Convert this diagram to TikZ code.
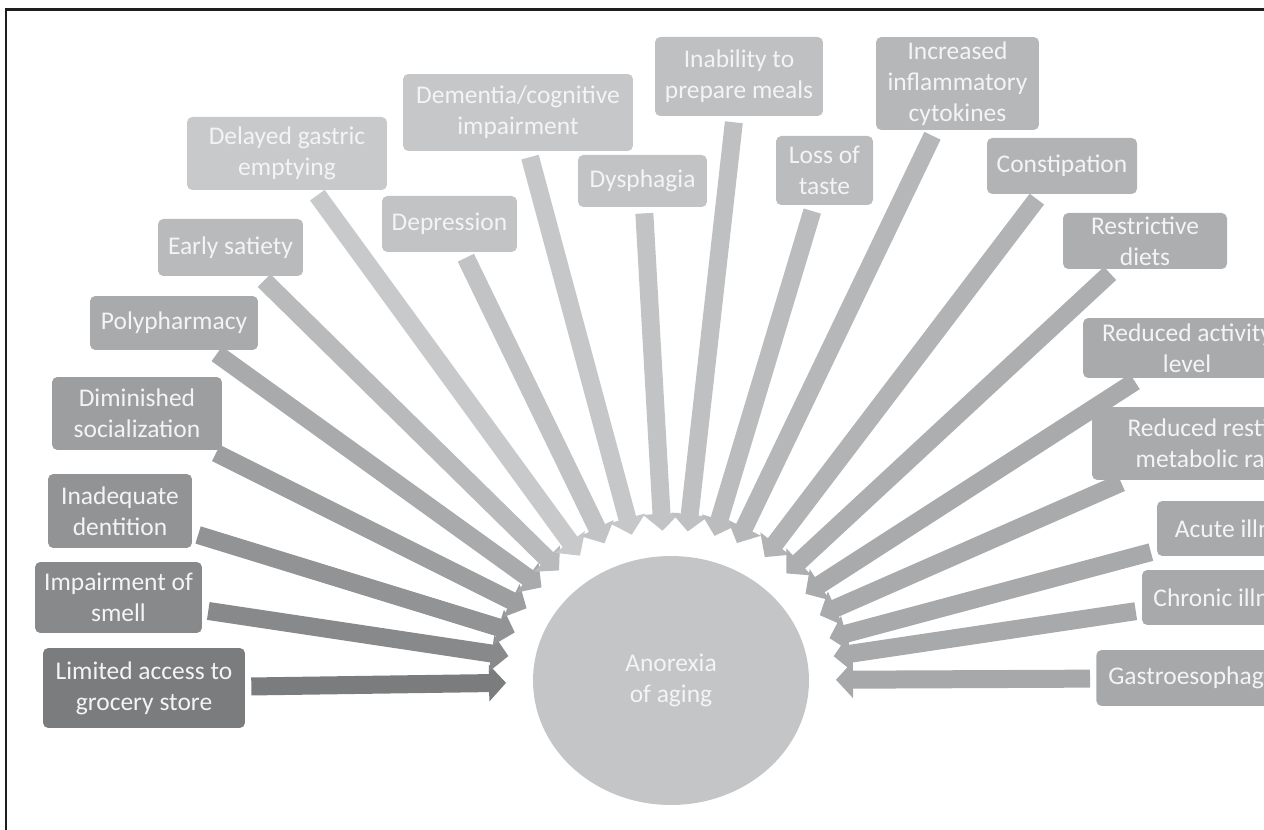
\documentclass[tikz,border=0pt]{standalone}
\usepackage{fontspec}
\setmainfont{Carlito}
\usetikzlibrary{arrows.meta,calc,shapes.geometric}
\definecolor{frameInk}{HTML}{1E1E1E}
\definecolor{labelInk}{HTML}{F4F4F4}
\definecolor{coreTone}{HTML}{C4C5C7}
\definecolor{tone-limited}{HTML}{7B7C7E}
\definecolor{tone-smell}{HTML}{88898B}
\definecolor{tone-dent}{HTML}{929395}
\definecolor{tone-dimin}{HTML}{9D9EA0}
\definecolor{tone-poly}{HTML}{A9AAAC}
\definecolor{tone-satiety}{HTML}{B9BABC}
\definecolor{tone-gastric}{HTML}{C8C9CB}
\definecolor{tone-depression}{HTML}{C2C3C5}
\definecolor{tone-dementia}{HTML}{C6C7C9}
\definecolor{tone-dysphagia}{HTML}{C2C3C5}
\definecolor{tone-inability}{HTML}{BFC0C2}
\definecolor{tone-taste}{HTML}{BBBCBE}
\definecolor{tone-cytokines}{HTML}{B6B7B9}
\definecolor{tone-constipation}{HTML}{B2B3B5}
\definecolor{tone-restrictive}{HTML}{ADAEB0}
\definecolor{tone-activity}{HTML}{A9AAAC}
\definecolor{tone-resting}{HTML}{A9AAAC}
\definecolor{tone-acute}{HTML}{A8A9AB}
\definecolor{tone-chronic}{HTML}{A8A9AB}
\definecolor{tone-gastro}{HTML}{A7A8AA}
\tikzset{
  factor/.style={rounded corners=3pt, align=center, inner sep=0pt,
                 text=labelInk, font=\fontsize{14.5}{17.7}\selectfont},
  core/.style={ellipse, fill=coreTone, inner sep=0pt, align=center,
               text=labelInk, font=\fontsize{14.5}{17.7}\selectfont},
  fatarrow/.style={line width=0.36cm, -{Triangle[length=0.34cm,width=0.72cm]},
                   shorten <=0.12cm},
  frame/.style={line width=0.06cm, frameInk},
}

\begin{document}
\begin{tikzpicture}[x=0.02cm, y=-0.02cm]
  \useasboundingbox (0,0) rectangle (1264,830);
  \clip (0,0) rectangle (1264,830);

  % outer frame (only top and left edges show)
  \draw[frame] (6,850) -- (6,9.5) -- (1290,9.5);

  % centre
  \node[core, minimum width=5.52cm, minimum height=4.98cm] (core) at (671,680.5)
        {Anorexia\\of aging};

  % left side, bottom to top
  \node[factor, fill=tone-limited, minimum width=4.04cm, minimum height=1.6cm]
        (limited) at (144,688) {Limited access to\\grocery store};
  \node[factor, fill=tone-smell, minimum width=3.34cm, minimum height=1.42cm]
        (smell) at (118.5,597.5) {Impairment of\\smell};
  \node[factor, fill=tone-dent, minimum width=2.88cm, minimum height=1.48cm]
        (dent) at (120,511) {Inadequate\\dentition};
  \node[factor, fill=tone-dimin, minimum width=3.4cm, minimum height=1.46cm]
        (dimin) at (137,413.5) {Diminished\\socialization};
  \node[factor, fill=tone-poly, minimum width=3.36cm, minimum height=1.08cm]
        (poly) at (174,323) {Polypharmacy};
  \node[factor, fill=tone-satiety, minimum width=2.9cm, minimum height=1.14cm]
        (satiety) at (230.5,247.5) {Early satiety};
  \node[factor, fill=tone-gastric, minimum width=4cm, minimum height=1.46cm]
        (gastric) at (287,153.5) {Delayed gastric\\emptying};

  % top row
  \node[factor, fill=tone-depression, minimum width=2.7cm, minimum height=1.12cm]
        (depression) at (449.5,224) {Depression};
  \node[factor, fill=tone-dementia, minimum width=4.6cm, minimum height=1.54cm]
        (dementia) at (518,112.5) {Dementia/cognitive\\impairment};
  \node[factor, fill=tone-dysphagia, minimum width=2.58cm, minimum height=1.04cm]
        (dysphagia) at (642.5,181) {Dysphagia};
  \node[factor, fill=tone-inability, minimum width=3.36cm, minimum height=1.58cm]
        (inability) at (739,76.5) {Inability to\\prepare meals};
  \node[factor, fill=tone-taste, minimum width=1.94cm, minimum height=1.38cm]
        (taste) at (824.5,170.5) {Loss of\\taste};
  \node[factor, fill=tone-cytokines, minimum width=3.26cm, minimum height=1.86cm]
        (cytokines) at (957.5,83.5) {Increased\\inflammatory\\cytokines};
  \node[factor, fill=tone-constipation, minimum width=3cm, minimum height=1.12cm]
        (constipation) at (1062,166) {Constipation};
  \node[factor, fill=tone-restrictive, minimum width=3.28cm, minimum height=1.12cm]
        (restrictive) at (1145,241) {Restrictive\\diets};

  % right side, top to bottom (running off the edge)
  \node[factor, fill=tone-activity, minimum width=4.16cm, minimum height=1.2cm]
        (activity) at (1187,348) {Reduced activity\\level};
  \node[factor, fill=tone-resting, minimum width=4.74cm, minimum height=1.46cm]
        (resting) at (1210.5,443.5) {Reduced resting\\metabolic rate};
  \node[factor, fill=tone-acute, minimum width=3.3cm, minimum height=1.1cm]
        (acute) at (1239.5,528.5) {Acute illness};
  \node[factor, fill=tone-chronic, minimum width=3.42cm, minimum height=1.1cm]
        (chronic) at (1227.5,597.5) {Chronic illness};
  \node[factor, fill=tone-gastro, minimum height=1.12cm, inner xsep=0.24cm,
        anchor=west] (gastro) at (1096,678) {Gastroesophageal reflux};

  % arrows into the centre
  \foreach \n/\r in {limited/3.30, smell/3.29, dent/3.27, dimin/3.23,
                     poly/3.19, satiety/3.14, gastric/3.09, depression/3.05,
                     dementia/3.02, dysphagia/3.00, inability/3.00, taste/3.02,
                     cytokines/3.05, constipation/3.10, restrictive/3.15,
                     activity/3.20, resting/3.25, acute/3.28, chronic/3.29,
                     gastro/3.30}
  {
    \coordinate (tip-\n) at ($(core.center)!\r cm!(\n.center)$);
    \draw[fatarrow, tone-\n] (\n) -- (tip-\n);
  }
\end{tikzpicture}
\end{document}
